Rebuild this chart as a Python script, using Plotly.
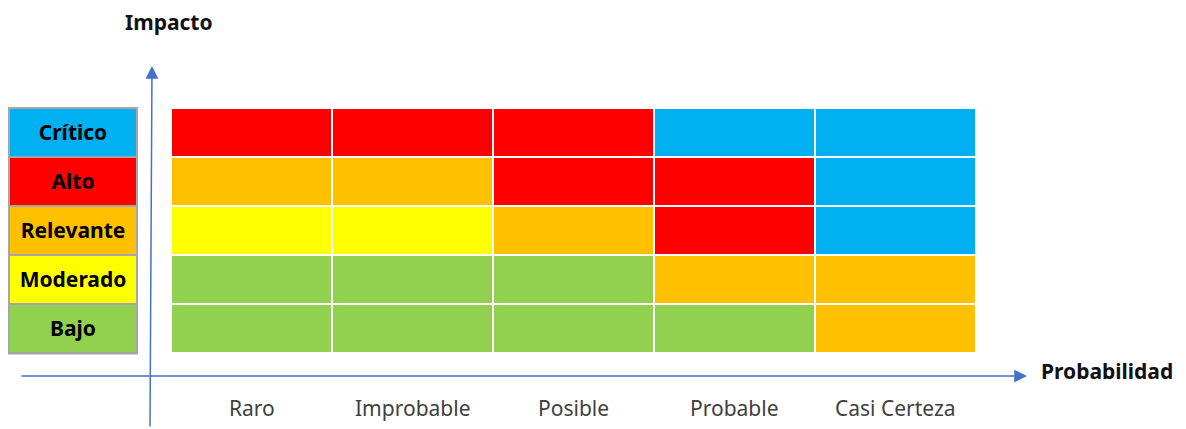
import plotly.graph_objects as go

# ---- data ----
probabilidad = ["Raro", "Improbable", "Posible", "Probable", "Casi Certeza"]
impacto = ["Bajo", "Moderado", "Relevante", "Alto", "Crítico"]  # bottom -> top
# risk level index per cell: 0 Bajo, 1 Moderado, 2 Relevante, 3 Alto, 4 Crítico
# rows ordered bottom (Bajo) -> top (Crítico), columns Raro -> Casi Certeza
row_bajo = [0, 0, 0, 0, 2]
row_moderado = [0, 0, 0, 2, 2]
row_relevante = [1, 1, 2, 3, 4]
row_alto = [2, 2, 3, 3, 4]
row_critico = [3, 3, 3, 4, 4]
legend_levels = [0, 1, 2, 3, 4]
level_colors = ["#92D050", "#FFFF00", "#FFC000", "#FF0000", "#00B0F0"]

W, H = 1186, 429
FONT = "Noto Sans"

def px_x(p):
    return p / W

def px_y(p):
    return 1 - p / H

colorscale = []
n = len(level_colors)
for i, c in enumerate(level_colors):
    colorscale.append([i / n, c])
    colorscale.append([(i + 1) / n, c])

z_main = [row_bajo, row_moderado, row_relevante, row_alto, row_critico]

fig = go.Figure()

fig.add_trace(go.Heatmap(
    z=z_main, x=probabilidad, y=impacto,
    zmin=-0.5, zmax=n - 0.5, colorscale=colorscale, showscale=False,
    xgap=2, ygap=2, hoverinfo="skip",
    xaxis="x", yaxis="y",
))

fig.add_trace(go.Heatmap(
    z=[[v] for v in legend_levels], x=["nivel"], y=impacto,
    text=[[f"<b>{lbl}</b>"] for lbl in impacto],
    texttemplate="%{text}",
    textfont=dict(family=FONT, size=21, color="#000000"),
    zmin=-0.5, zmax=n - 0.5, colorscale=colorscale, showscale=False,
    xgap=2, ygap=2, hoverinfo="skip",
    xaxis="x2", yaxis="y",
))

ydom = [px_y(353), px_y(108)]
fig.update_layout(
    width=W, height=H,
    margin=dict(l=0, r=0, t=0, b=0),
    paper_bgcolor="white", plot_bgcolor="white",
    showlegend=False,
    xaxis=dict(domain=[px_x(171), px_x(976)], anchor="y", showticklabels=False,
               showgrid=False, zeroline=False, showline=False, ticks=""),
    xaxis2=dict(domain=[px_x(9), px_x(137)], anchor="y", showticklabels=False,
                showgrid=False, zeroline=False, showline=False, ticks=""),
    yaxis=dict(domain=ydom, anchor="x", showticklabels=False, showgrid=False,
               zeroline=False, showline=False, ticks=""),
)

# gray frame behind legend column
fig.add_shape(type="rect", xref="paper", yref="paper",
              x0=px_x(8), x1=px_x(138), y0=px_y(354.5), y1=px_y(107),
              fillcolor="#A6A6A6", line=dict(width=0), layer="below")

# category labels under the grid
for cat in probabilidad:
    fig.add_annotation(x=cat, xref="x", y=px_y(408), yref="paper",
                       xanchor="center", yanchor="middle",
                       text=cat, showarrow=False,
                       font=dict(family=FONT, size=21, color="#404040"))

# axis arrows (tail given as pixel offset from head)
arrow_color = "#4472C4"
fig.add_annotation(x=px_x(152), y=px_y(66), xref="paper", yref="paper",
                   ax=-2, ay=362, axref="pixel", ayref="pixel",
                   text="", showarrow=True, arrowhead=2, arrowsize=1.7,
                   arrowwidth=1.5, arrowcolor=arrow_color, standoff=0)
fig.add_annotation(x=px_x(1027), y=px_y(376), xref="paper", yref="paper",
                   ax=-1007, ay=0, axref="pixel", ayref="pixel",
                   text="", showarrow=True, arrowhead=2, arrowsize=1.7,
                   arrowwidth=1.5, arrowcolor=arrow_color, standoff=0)

# axis titles
fig.add_annotation(x=px_x(169), y=px_y(22), xref="paper", yref="paper",
                   xanchor="center", yanchor="middle",
                   text="<b>Impacto</b>", showarrow=False,
                   font=dict(family=FONT, size=21, color="#111111"))
fig.add_annotation(x=px_x(1107), y=px_y(371), xref="paper", yref="paper",
                   xanchor="center", yanchor="middle",
                   text="<b>Probabilidad</b>", showarrow=False,
                   font=dict(family=FONT, size=21, color="#111111"))

fig.write_html("out.html")
